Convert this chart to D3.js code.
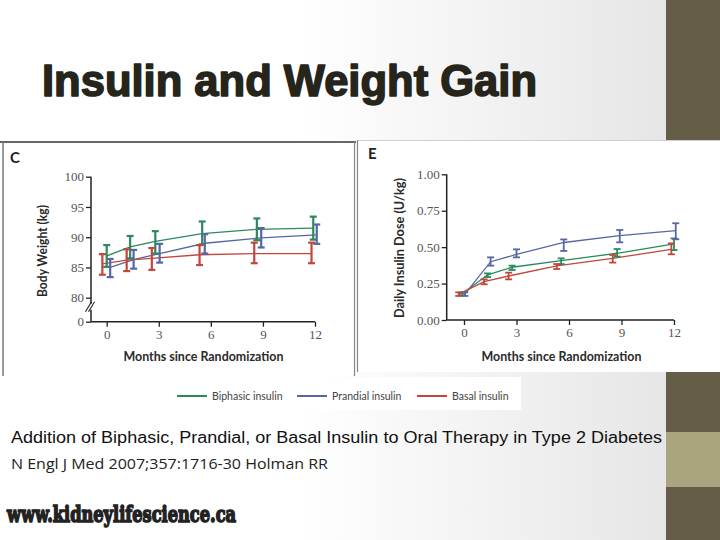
<!DOCTYPE html>
<html>
<head>
<meta charset="utf-8">
<script src="https://cdn.jsdelivr.net/npm/d3@7"></script>
<style>
  html, body { margin: 0; padding: 0; background: #fff; }
  svg { display: block; }
</style>
</head>
<body>
<svg id="chart" width="720" height="540"></svg>
<script>
// ---------------- DATA ----------------
const seriesNames = ["Biphasic insulin", "Prandial insulin", "Basal insulin"];
const monthTicks = [0, 3, 6, 9, 12];
const weightTicks = [0, 80, 85, 90, 95, 100];
const doseTicks = [0, 0.25, 0.5, 0.75, 1.0];

// Panel C: body weight (kg)
const wBiphasicX  = [0.0, 1.35, 2.8, 5.5, 8.65, 11.9];
const wBiphasic   = [86.9, 88.4, 89.3, 90.6, 91.3, 91.5];
const wBiphasicLo = [85.1, 86.5, 87.3, 88.8, 89.5, 89.6];
const wBiphasicHi = [88.7, 90.2, 91.0, 92.6, 93.1, 93.4];

const wPrandialX  = [0.2, 1.55, 3.05, 5.65, 8.9, 12.1];
const wPrandial   = [85.0, 86.3, 87.3, 89.0, 89.9, 90.4];
const wPrandialLo = [83.4, 84.8, 85.8, 87.3, 88.3, 88.9];
const wPrandialHi = [86.4, 87.9, 88.9, 90.5, 91.5, 92.1];

const wBasalX  = [-0.25, 1.15, 2.6, 5.35, 8.5, 11.8];
const wBasal   = [85.6, 86.2, 86.5, 87.1, 87.3, 87.3];
const wBasalLo = [83.8, 84.4, 84.6, 85.4, 85.7, 85.7];
const wBasalHi = [87.2, 88.0, 88.2, 88.7, 89.1, 89.1];

// Panel E: daily insulin dose (U/kg)
const dBiphasicX  = [-0.1, 1.35, 2.75, 5.55, 8.75, 12.0];
const dBiphasic   = [0.18, 0.31, 0.362, 0.407, 0.458, 0.522];
const dBiphasicLo = [0.17, 0.295, 0.343, 0.384, 0.435, 0.48];
const dBiphasicHi = [0.19, 0.32, 0.373, 0.423, 0.487, 0.56];

const dPrandialX  = [0.05, 1.52, 3.0, 5.7, 8.9, 12.1];
const dPrandial   = [0.178, 0.40, 0.45, 0.532, 0.579, 0.613];
const dPrandialLo = [0.165, 0.373, 0.43, 0.474, 0.533, 0.554];
const dPrandialHi = [0.19, 0.43, 0.485, 0.553, 0.618, 0.664];

const dBasalX  = [-0.3, 1.15, 2.55, 5.3, 8.5, 11.85];
const dBasal   = [0.178, 0.263, 0.302, 0.371, 0.423, 0.485];
const dBasalLo = [0.165, 0.245, 0.279, 0.35, 0.394, 0.451];
const dBasalHi = [0.19, 0.279, 0.325, 0.384, 0.446, 0.526];

// ---------------- STYLE ----------------
const colors = ["#2a8a5c", "#5666a6", "#c2473b"];
const svg = d3.select("#chart");

function pack(xs, ys, lo, hi) {
  return xs.map((x, i) => ({ x, y: ys[i], lo: lo[i], hi: hi[i] }));
}
const weightSeries = [
  pack(wBiphasicX, wBiphasic, wBiphasicLo, wBiphasicHi),
  pack(wPrandialX, wPrandial, wPrandialLo, wPrandialHi),
  pack(wBasalX, wBasal, wBasalLo, wBasalHi)
];
const doseSeries = [
  pack(dBiphasicX, dBiphasic, dBiphasicLo, dBiphasicHi),
  pack(dPrandialX, dPrandial, dPrandialLo, dPrandialHi),
  pack(dBasalX, dBasal, dBasalLo, dBasalHi)
];

// ---------------- BACKGROUND ----------------
const defs = svg.append("defs");
const grad = defs.append("linearGradient").attr("id", "bg")
  .attr("x1", "0").attr("x2", "1").attr("y1", "0").attr("y2", "0");
grad.append("stop").attr("offset", "0%").attr("stop-color", "#ffffff");
grad.append("stop").attr("offset", "45%").attr("stop-color", "#ffffff");
grad.append("stop").attr("offset", "100%").attr("stop-color", "#e6e6e6");
svg.append("rect").attr("x", 0).attr("y", 0).attr("width", 666).attr("height", 540).attr("fill", "url(#bg)");

// right stripes
const stripes = [
  { y0: 0, y1: 140, c: "#655d48" },
  { y0: 372, y1: 432, c: "#655d48" },
  { y0: 432, y1: 487, c: "#a9a57f" },
  { y0: 487, y1: 540, c: "#655d48" }
];
svg.selectAll("rect.stripe").data(stripes).join("rect").attr("class", "stripe")
  .attr("x", 666).attr("width", 54).attr("y", d => d.y0).attr("height", d => d.y1 - d.y0)
  .attr("fill", d => d.c);

// Title
svg.append("text").attr("x", 42).attr("y", 96)
  .attr("font-family", "Liberation Sans, Arial, sans-serif").attr("font-weight", "bold")
  .attr("font-size", 44).attr("fill", "#26251c").attr("stroke", "#26251c").attr("stroke-width", 1.6)
  .attr("stroke-linejoin", "round")
  .attr("textLength", 495).attr("lengthAdjust", "spacingAndGlyphs")
  .text("Insulin and Weight Gain");

// ---------------- PANELS ----------------
// Panel C frame
svg.append("rect").attr("x", 3).attr("y", 142).attr("width", 352).attr("height", 234).attr("fill", "#fff");
svg.append("line").attr("x1", 0).attr("x2", 356).attr("y1", 142).attr("y2", 142).attr("stroke", "#666").attr("stroke-width", 2);
svg.append("line").attr("x1", 3).attr("x2", 3).attr("y1", 142).attr("y2", 376).attr("stroke", "#777").attr("stroke-width", 1.5);
svg.append("line").attr("x1", 354.5).attr("x2", 354.5).attr("y1", 142).attr("y2", 376).attr("stroke", "#888").attr("stroke-width", 1.2);

// Panel E frame
svg.append("rect").attr("x", 357).attr("y", 140).attr("width", 363).attr("height", 232).attr("fill", "#fff");
svg.append("line").attr("x1", 357).attr("x2", 720).attr("y1", 140.5).attr("y2", 140.5).attr("stroke", "#cfcfcf").attr("stroke-width", 1.2);
svg.append("line").attr("x1", 357.5).attr("x2", 357.5).attr("y1", 140).attr("y2", 372).attr("stroke", "#888").attr("stroke-width", 1.2);

const tickFont = "Liberation Serif, DejaVu Serif, serif";
const labelFont = "Lato, Open Sans, sans-serif";

function drawPanel(opts) {
  const g = svg.append("g");
  const { x, y, xAxisX, series, yTicks, yFmt, capW, barW } = opts;

  // axes
  const yAxis = d3.axisLeft(y).tickValues(yTicks).tickSize(5).tickPadding(2).tickFormat(yFmt);
  const gy = g.append("g").attr("transform", `translate(${xAxisX},0)`).call(yAxis);
  gy.select(".domain").remove();
  const xAxis = d3.axisBottom(x).tickValues(monthTicks).tickSize(5).tickPadding(3);
  const gx = g.append("g").attr("transform", `translate(0,${y(yTicks[0])})`).call(xAxis);
  gx.select(".domain").remove();
  [gx, gy].forEach(a => {
    a.selectAll(".tick line").attr("stroke", "#222").attr("stroke-width", 1.3);
    a.selectAll(".tick text").attr("font-family", tickFont).attr("font-size", 13).attr("fill", "#555");
  });
  // x axis line
  g.append("line").attr("x1", xAxisX).attr("x2", x(12)).attr("y1", y(yTicks[0])).attr("y2", y(yTicks[0]))
    .attr("stroke", "#222").attr("stroke-width", 1.5);
  // y axis line(s)
  if (opts.breakAt) {
    const b0 = y(opts.breakAt[0]), b1 = y(opts.breakAt[1]);
    g.append("line").attr("x1", xAxisX).attr("x2", xAxisX).attr("y1", y(yTicks[yTicks.length - 1])).attr("y2", b1)
      .attr("stroke", "#222").attr("stroke-width", 1.5);
    g.append("line").attr("x1", xAxisX).attr("x2", xAxisX).attr("y1", b0).attr("y2", y(yTicks[0]))
      .attr("stroke", "#222").attr("stroke-width", 1.5);
    [-1.5, 1.5].forEach(o => {
      g.append("line").attr("x1", xAxisX - 4 + o).attr("x2", xAxisX + 2 + o)
        .attr("y1", (b0 + b1) / 2 + 5).attr("y2", (b0 + b1) / 2 - 5)
        .attr("stroke", "#222").attr("stroke-width", 1.1);
    });
  } else {
    g.append("line").attr("x1", xAxisX).attr("x2", xAxisX).attr("y1", y(yTicks[yTicks.length - 1])).attr("y2", y(yTicks[0]))
      .attr("stroke", "#222").attr("stroke-width", 1.5);
  }

  // lines
  const line = d3.line().x(d => x(d.x)).y(d => y(d.y));
  series.forEach((s, i) => {
    g.append("path").datum(s).attr("d", line).attr("fill", "none")
      .attr("stroke", colors[i]).attr("stroke-width", 1.3);
  });
  // error bars
  series.forEach((s, i) => {
    const eb = g.append("g").attr("stroke", colors[i]).attr("stroke-width", barW).attr("fill", "none");
    s.forEach(d => {
      const cx = x(d.x);
      eb.append("line").attr("x1", cx).attr("x2", cx).attr("y1", y(d.lo)).attr("y2", y(d.hi));
      eb.append("line").attr("x1", cx - capW).attr("x2", cx + capW).attr("y1", y(d.lo)).attr("y2", y(d.lo));
      eb.append("line").attr("x1", cx - capW).attr("x2", cx + capW).attr("y1", y(d.hi)).attr("y2", y(d.hi));
    });
  });

  // labels
  g.append("text").attr("x", opts.panelLabelXY[0]).attr("y", opts.panelLabelXY[1])
    .attr("font-family", labelFont).attr("font-weight", "bold").attr("font-size", 15).attr("fill", "#222")
    .text(opts.panelLabel);
  g.append("text").attr("x", opts.xLabelX).attr("y", 361).attr("text-anchor", "middle")
    .attr("font-family", labelFont).attr("font-weight", "bold").attr("font-size", 12.5).attr("fill", "#2a2a2a")
    .attr("textLength", 160).attr("lengthAdjust", "spacingAndGlyphs")
    .text("Months since Randomization");
  g.append("text").attr("transform", `translate(${opts.yLabelXY[0]},${opts.yLabelXY[1]}) rotate(-90)`)
    .attr("text-anchor", "middle")
    .attr("font-family", labelFont).attr("font-weight", "bold").attr("font-size", 12.5).attr("fill", "#2a2a2a")
    .attr("textLength", opts.yLabelLen).attr("lengthAdjust", "spacingAndGlyphs")
    .text(opts.yLabel);
}

// Panel C scales
const xC = d3.scaleLinear().domain([0, 12]).range([106.7, 315]);
const yC = d3.scaleLinear().domain([0, 80, 100]).range([321.7, 297.7, 176.7]);
drawPanel({
  x: xC, y: yC, xAxisX: 91, series: weightSeries, yTicks: weightTicks,
  yFmt: d3.format("d"), capW: 3.5, barW: 2.2, breakAt: [40, 60],
  panelLabel: "C", panelLabelXY: [10, 163],
  xLabelX: 203.5, yLabel: "Body Weight (kg)", yLabelXY: [47, 251], yLabelLen: 92
});

// Panel E scales
const xE = d3.scaleLinear().domain([0, 12]).range([464, 674]);
const yE = d3.scaleLinear().domain([0, 1]).range([320, 174.3]);
drawPanel({
  x: xE, y: yE, xAxisX: 446.7, series: doseSeries, yTicks: doseTicks,
  yFmt: d3.format(".2f"), capW: 3.5, barW: 1.8,
  panelLabel: "E", panelLabelXY: [368, 159],
  xLabelX: 561.5, yLabel: "Daily Insulin Dose (U/kg)", yLabelXY: [404, 248], yLabelLen: 140
});

// ---------------- LEGEND ----------------
svg.append("rect").attr("x", 165).attr("y", 377).attr("width", 356).attr("height", 33).attr("fill", "#fff");
const legendX = [177, 297, 417];
const lg = svg.append("g").selectAll("g").data(seriesNames).join("g")
  .attr("transform", (d, i) => `translate(${legendX[i]},396)`);
lg.append("line").attr("x1", 0).attr("x2", 30).attr("y1", 0).attr("y2", 0)
  .attr("stroke", (d, i) => colors[i]).attr("stroke-width", 2);
lg.append("text").attr("x", 35).attr("y", 3.5)
  .attr("font-family", labelFont).attr("font-size", 10.5).attr("fill", "#444")
  .text(d => d);

// ---------------- FOOTER TEXT ----------------
svg.append("text").attr("x", 11).attr("y", 443)
  .attr("font-family", "Liberation Sans, Arial, sans-serif").attr("font-size", 16).attr("fill", "#111")
  .attr("textLength", 651).attr("lengthAdjust", "spacingAndGlyphs")
  .text("Addition of Biphasic, Prandial, or Basal Insulin to Oral Therapy in Type 2 Diabetes");
svg.append("text").attr("x", 11).attr("y", 469)
  .attr("font-family", "Open Sans, Liberation Sans, sans-serif").attr("font-size", 14).attr("fill", "#222")
  .attr("textLength", 317).attr("lengthAdjust", "spacingAndGlyphs")
  .text("N Engl J Med 2007;357:1716-30 Holman RR");
svg.append("text").attr("x", 7).attr("y", 522)
  .attr("font-family", "DejaVu Serif, serif").attr("font-weight", "bold").attr("font-size", 22)
  .attr("fill", "#222").attr("stroke", "#222").attr("stroke-width", 1.6)
  .attr("textLength", 229).attr("lengthAdjust", "spacingAndGlyphs")
  .text("www.kidneylifescience.ca");
</script>
</body>
</html>
